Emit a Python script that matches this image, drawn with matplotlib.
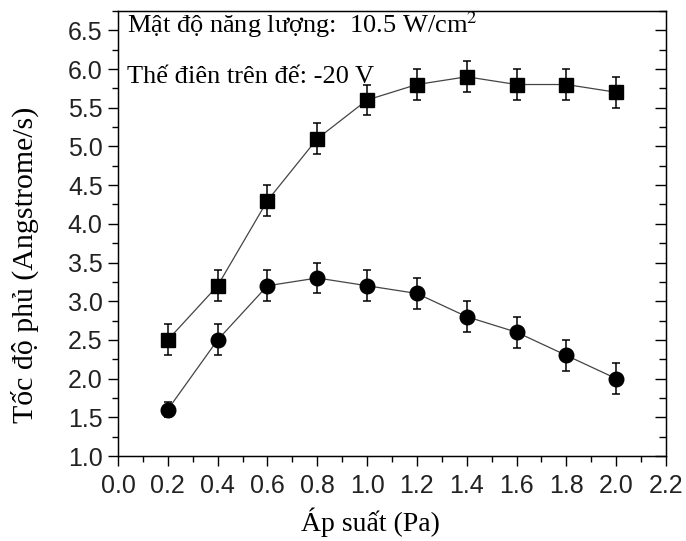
import matplotlib.pyplot as plt
from matplotlib.ticker import MultipleLocator

pressure = [0.2, 0.4, 0.6, 0.8, 1.0, 1.2, 1.4, 1.6, 1.8, 2.0]
rate_sq = [2.5, 3.2, 4.3, 5.1, 5.6, 5.8, 5.9, 5.8, 5.8, 5.7]
err_sq = [0.2, 0.2, 0.2, 0.2, 0.2, 0.2, 0.2, 0.2, 0.2, 0.2]
rate_ci = [1.6, 2.5, 3.2, 3.3, 3.2, 3.1, 2.8, 2.6, 2.3, 2.0]
err_ci = [0.1, 0.2, 0.2, 0.2, 0.2, 0.2, 0.2, 0.2, 0.2, 0.2]

SERIF = 'Liberation Serif'
SANS = 'Liberation Sans'
W, H = 686, 541

fig = plt.figure(figsize=(W / 100, H / 100), dpi=100)
ax = fig.add_axes([118 / W, 1 - 456 / H, 548 / W, 445 / H])

for y, e, m, s in [(rate_sq, err_sq, 's', 9.5), (rate_ci, err_ci, 'o', 10.5)]:
    ax.errorbar(pressure, y, yerr=e, fmt=m, color='black', ms=s,
                elinewidth=1.1, capsize=3, capthick=1.1, zorder=3)
    ax.plot(pressure, y, '-', color='#444444', lw=0.9, zorder=2)

ax.set_xlim(0, 2.2)
ax.set_ylim(1.0, 6.75)
ax.xaxis.set_major_locator(MultipleLocator(0.2))
ax.xaxis.set_minor_locator(MultipleLocator(0.1))
ax.yaxis.set_major_locator(MultipleLocator(0.5))
ax.yaxis.set_minor_locator(MultipleLocator(0.25))
ax.xaxis.set_major_formatter(plt.FormatStrFormatter('%.1f'))
ax.yaxis.set_major_formatter(plt.FormatStrFormatter('%.1f'))

ax.tick_params(which='both', direction='out', top=False, right=False, width=1)
ax.tick_params(which='major', length=7, labelsize=18)
ax.tick_params(which='minor', length=4)
ax.tick_params(axis='x', which='major', pad=6)
ax.tick_params(axis='y', which='major', pad=4)
for lab in ax.get_xticklabels() + ax.get_yticklabels():
    lab.set_family(SANS)
    lab.set_color('#222222')

# inward ticks on right side
ax2 = ax.twinx()
ax2.set_ylim(ax.get_ylim())
ax2.yaxis.set_major_locator(MultipleLocator(0.5))
ax2.yaxis.set_minor_locator(MultipleLocator(0.25))
ax2.tick_params(which='both', direction='in', labelright=False, width=1)
ax2.tick_params(which='major', length=8)
ax2.tick_params(which='minor', length=5)

for sp in ax.spines.values():
    sp.set_linewidth(1)

fig.text(370 / W, 1 - 522 / H, 'Áp suất (Pa)', family=SERIF, fontsize=20,
         ha='center', va='center')
fig.text(25 / W, 1 - 265 / H, 'Tốc độ phủ (Angstrome/s)', family=SERIF,
         fontsize=21.5, rotation=90, ha='center', va='center')

fig.text(127 / W, 1 - 33 / H, 'Mật độ năng lượng:  10.5 W/cm$^2$', family=SERIF,
         fontsize=19, va='baseline', ha='left', math_fontfamily='stix')
fig.text(127 / W, 1 - 83 / H, 'Thế điên trên đế: -20 V', family=SERIF,
         fontsize=19, va='baseline', ha='left')

fig.savefig('out.png', dpi=100)
